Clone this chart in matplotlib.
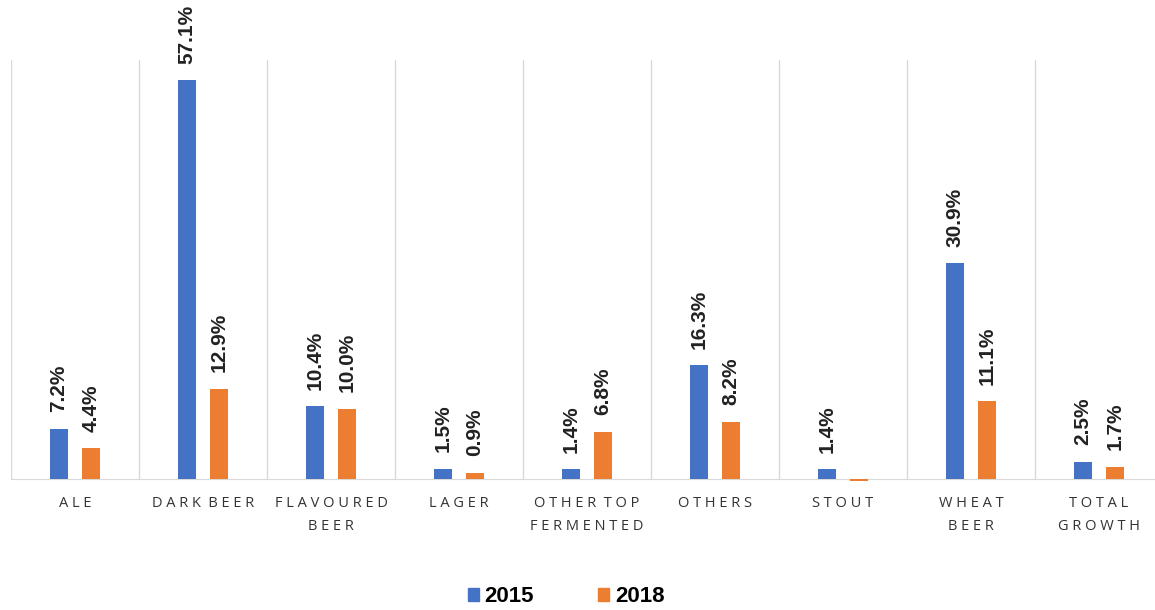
import numpy as np
import matplotlib.pyplot as plt
from matplotlib.patches import Patch

categories = ["ALE", "DARK BEER", "FLAVOURED\nBEER", "LAGER", "OTHER TOP\nFERMENTED",
              "OTHERS", "STOUT", "WHEAT\nBEER", "TOTAL\nGROWTH"]
growth_2015 = [7.2, 57.1, 10.4, 1.5, 1.4, 16.3, 1.4, 30.9, 2.5]
growth_2018 = [4.4, 12.9, 10.0, 0.9, 6.8, 8.2, -0.3, 11.1, 1.7]

blue = "#4472C4"
orange = "#ED7D31"


def spaced(s):
    # wide letter spacing like the original axis labels
    lines = []
    for line in s.split("\n"):
        lines.append("  ".join(" ".join(word) for word in line.split(" ")))
    return "\n".join(lines)


fig = plt.figure(figsize=(11.55, 6.10), dpi=100)
ax = fig.add_axes([11 / 1155, 131 / 610, 1152 / 1155, 419 / 610])

x = np.arange(len(categories))
w = 0.14
off = 0.125
b1 = ax.bar(x - off, growth_2015, w, color=blue, clip_on=False, zorder=3)
b2 = ax.bar(x + off, growth_2018, w, color=orange, clip_on=False, zorder=3)

for bars, vals in [(b1, growth_2015), (b2, growth_2018)]:
    for rect, v in zip(bars, vals):
        if v <= 0:
            continue
        ax.annotate(f"{v:.1f}%", (rect.get_x() + rect.get_width() / 2, v),
                    xytext=(0, 12), textcoords="offset points",
                    rotation=90, ha="center", va="bottom",
                    fontsize=15, fontweight="bold", family="Liberation Sans",
                    color="#222222")

ax.set_xlim(-0.5, len(categories) - 0.5)
ax.set_ylim(0, 60)
ax.set_yticks([])
ax.set_xticks(x)
ax.set_xticklabels([spaced(c) for c in categories], family="Open Sans",
                   fontsize=10.5, color="#333333", linespacing=1.75)
ax.tick_params(axis="x", length=0, pad=12)
ax.set_xticks(np.arange(len(categories)) - 0.5, minor=True)
ax.tick_params(axis="x", which="minor", length=0)
ax.grid(axis="x", which="minor", color="#d9d9d9", linewidth=1)
for s in ["top", "left", "right"]:
    ax.spines[s].set_visible(False)
ax.spines["bottom"].set_color("#d9d9d9")

handles = [Patch(color=blue, label="2015"), Patch(color=orange, label="2018")]
fig.legend(handles=handles, loc="center", bbox_to_anchor=(566 / 1155, 1 - 597 / 610),
           ncol=2, frameon=False, handlelength=0.5, handleheight=0.5,
           handletextpad=0.25, columnspacing=2.9,
           prop={"family": "Liberation Sans", "weight": "bold", "size": 16})

fig.savefig("out.png", dpi=100)
